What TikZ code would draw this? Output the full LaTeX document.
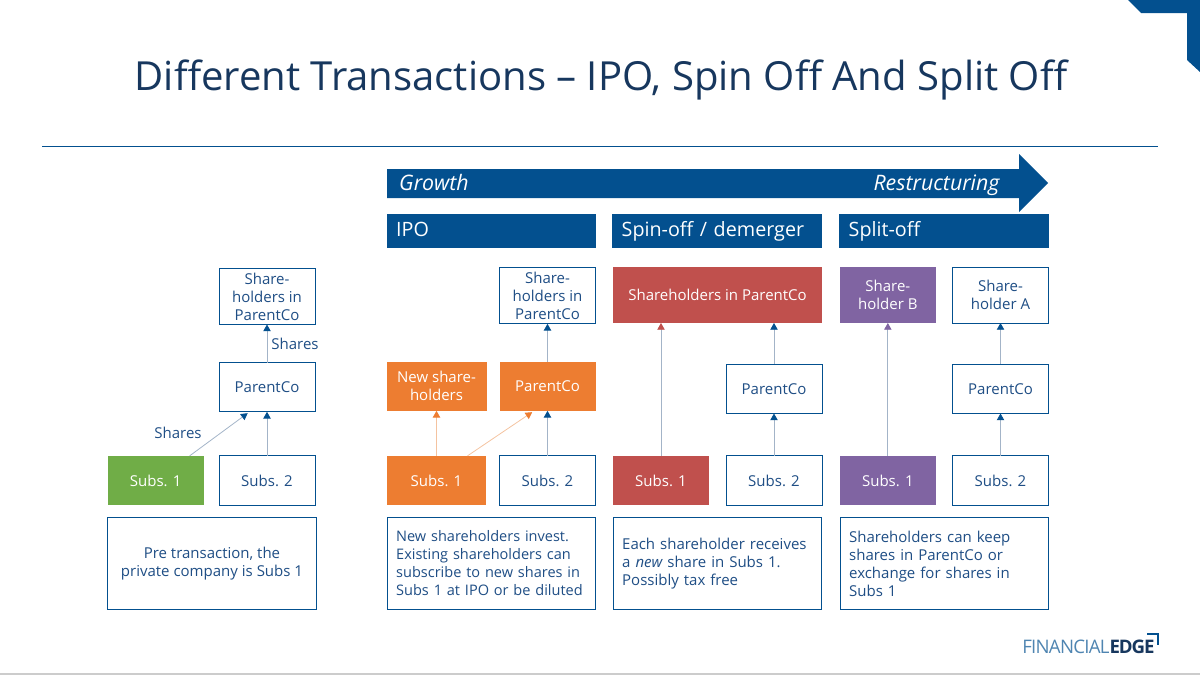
\documentclass[tikz,border=0pt]{standalone}
\usepackage{fontspec}
\setmainfont{Open Sans}
\usepackage{tikz}
\usetikzlibrary{positioning,arrows.meta}
\definecolor{brandblue}{HTML}{03508F}
\definecolor{titleblue}{HTML}{17375E}
\definecolor{textblue}{HTML}{1F4E85}
\definecolor{wireblue}{HTML}{A3B4C8}
\definecolor{subsgreen}{HTML}{70AD47}
\definecolor{ipoorange}{HTML}{ED7D31}
\definecolor{wireorange}{HTML}{F4C3A0}
\definecolor{spinred}{HTML}{C0504D}
\definecolor{splitpurple}{HTML}{8064A2}

\begin{document}
\begin{tikzpicture}[
  x=.75pt, y=-.75pt,
  box/.style={draw=brandblue, line width=.7pt, fill=white, text=textblue, inner sep=0pt, outer sep=0pt,
              minimum width=72pt, align=center, font=\fontsize{11.25}{13.5}\selectfont},
  tall/.style={box, minimum height=42pt},
  flat/.style={box, minimum height=37pt},
  solidbox/.style={draw=none, fill=#1, text=white},
  head/.style={fill=brandblue, text=white, inner sep=0pt, outer sep=0pt, minimum width=157pt, minimum height=25.5pt,
               text width=143pt, text height=11.5pt, text depth=3pt, align=left, font=\fontsize{14.8}{17}\selectfont},
  note/.style={box, minimum width=156.5pt, minimum height=68.5pt},
  textnote/.style={note, align=left, inner xsep=6.75pt, text width=143pt},
  banner/.style={text=white, inner sep=0pt, anchor=base, font=\fontsize{16}{19}\selectfont\itshape},
  wire/.style={draw=wireblue, line width=.6pt, -{Triangle[length=5pt,width=5.5pt,color=brandblue]}},
  wireo/.style={draw=wireorange, line width=.6pt, -{Triangle[length=5pt,width=5.5pt,color=ipoorange]}},
  wirer/.style={draw=wireblue, line width=.6pt, -{Triangle[length=5pt,width=5.5pt,color=spinred]}},
  wirep/.style={draw=wireblue, line width=.6pt, -{Triangle[length=5pt,width=5.5pt,color=splitpurple]}},
  tag/.style={text=textblue, inner sep=0pt, font=\fontsize{11.25}{13.5}\selectfont},
  ]
  \useasboundingbox (0,0) rectangle (1200,675);
  \fill[brandblue] (1128,0) -- (1141,13) -- (1187,13) -- (1187,60) -- (1200,72) -- (1200,0) -- cycle;
  \node[text=titleblue, inner sep=0pt, font=\fontsize{30.05}{36}\selectfont] (title) at (601,80) {Different Transactions – IPO, Spin Off And Split Off};
  \draw[brandblue, line width=.7pt] (42,146) -- (1158,146);
  \draw[black!20, line width=1pt] (0,674) -- (1200,674);

  \fill[brandblue] (387,169) -- (1019,169) -- (1019,154) -- (1048,183) -- (1019,212) -- (1019,198) -- (387,198) -- cycle;
  \node[banner] (growth) at (434,190) {Growth};
  \node[banner] (restr) at (936.5,190) {Restructuring};

  \node[head] (ipo) at (491.5,231) {IPO};
  \node[head] (spin) at (717,231) {Spin-off / demerger};
  \node[head] (split) at (944,231) {Split-off};

  \node[flat] (psubsb) at (267,480.5) {Subs. 2};
  \node[flat, solidbox=subsgreen, left=11.5pt of psubsb] (psubsa) {Subs. 1};
  \node[flat, above=33pt of psubsb] (pparent) {ParentCo};
  \node[tall, above=28.5pt of pparent] (pholders) {Share-\\holders in\\ParentCo};
  \node[note] (pnote) at (212,563.5) {Pre transaction, the\\private company is Subs 1};
  \node[tag] (pshares) at (295,343.5) {Shares};
  \node[tag] (psharesb) at (178,433) {Shares};

  \node[flat] (isubsb) at (547.5,480.5) {Subs. 2};
  \node[flat, solidbox=ipoorange, minimum width=74.5pt, left=10pt of isubsb] (isubsa) {Subs. 1};
  \node[flat, solidbox=ipoorange, above=33.75pt of isubsb] (iparent) {ParentCo};
  \node[flat, solidbox=ipoorange, minimum width=75pt, above=33.75pt of isubsa] (inew) {New share-\\holders};
  \node[tall, above=28.25pt of iparent] (iholders) {Share-\\holders in\\ParentCo};
  \node[textnote, font=\fontsize{10.9}{13.5}\selectfont] (inote) at (491.5,563.5) {New shareholders invest.\\Existing shareholders can\\subscribe to new shares in\\Subs 1 at IPO or be diluted};

  \node[flat] (ssubsb) at (774,480.5) {Subs. 2};
  \node[flat, solidbox=spinred, left=12.75pt of ssubsb] (ssubsa) {Subs. 1};
  \node[flat, above=31.75pt of ssubsb] (sparent) {ParentCo};
  \node[tall, solidbox=spinred, minimum width=157pt] (sholders) at (717.5,295) {Shareholders in ParentCo};
  \node[textnote] (snote) at (717.5,563.5) {Each shareholder receives\\a {\itshape new} share in Subs 1.\\Possibly tax free};

  \node[flat] (xsubsb) at (1000.5,480.5) {Subs. 2};
  \node[flat, solidbox=splitpurple, left=12.5pt of xsubsb] (xsubsa) {Subs. 1};
  \node[flat, above=31.75pt of xsubsb] (xparent) {ParentCo};
  \node[tall] (xholdera) at (1000.5,295) {Share-\\holder A};
  \node[tall, solidbox=splitpurple, left=12.5pt of xholdera] (xholderb) {Share-\\holder B};
  \node[textnote] (xnote) at (944.5,563.5) {Shareholders can keep\\shares in ParentCo or\\exchange for shares in\\Subs 1};

  \draw[wire] ([xshift=-10.5pt]psubsa.north east) -- ([xshift=-14.5pt,yshift=-1pt]pparent.south);
  \draw[wire] (psubsb) -- (pparent);
  \draw[wire] (pparent) -- (pholders);

  \draw[wireo] (isubsa.north -| inew) -- (inew);
  \draw[wireo] ([xshift=-14pt]isubsa.north east) -- ([xshift=-11.5pt,yshift=-1pt]iparent.south);
  \draw[wire] (isubsb) -- (iparent);
  \draw[wire] (iparent) -- (iholders);

  \draw[wirer] (ssubsa) -- (ssubsa |- sholders.south);
  \draw[wire] (ssubsb) -- (sparent);
  \draw[wire] (sparent) -- (sparent |- sholders.south);

  \draw[wirep] (xsubsa) -- (xholderb);
  \draw[wire] (xsubsb) -- (xparent);
  \draw[wire] (xparent) -- (xholdera);

  \node[inner sep=0pt, anchor=base west, font=\fontsize{14}{16}\selectfont] (logo) at (1022,653)
    {\addfontfeatures{LetterSpace=-4}\textcolor{brandblue!70}{FINANCIAL}\textcolor{titleblue}{\bfseries\addfontfeatures{LetterSpace=-6}EDGE}};
  \draw[brandblue, line width=1.1pt] (1147,634) -- (1158,634) -- (1158,645);
\end{tikzpicture}
\end{document}
